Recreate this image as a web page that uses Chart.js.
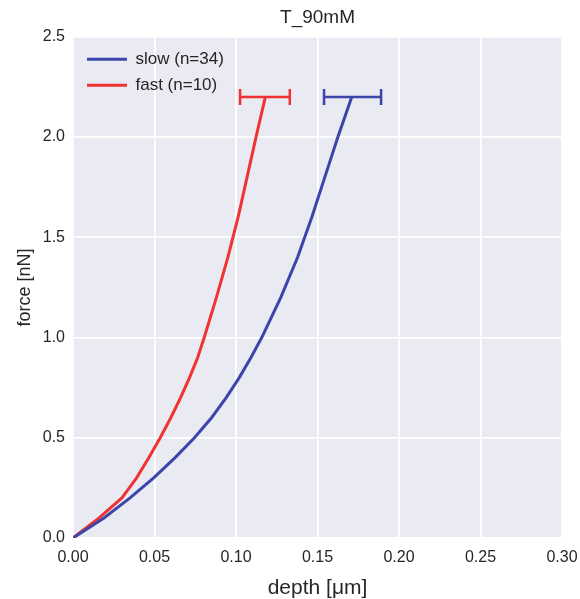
<!DOCTYPE html>
<html>
<head>
<meta charset="utf-8">
<script src="https://cdn.jsdelivr.net/npm/chart.js@4.4.1/dist/chart.umd.min.js"></script>
<style>
  html, body { margin: 0; padding: 0; background: #fff; }
  #wrap { width: 580px; height: 599px; }
</style>
</head>
<body>
<div id="wrap"><canvas id="forceChart"></canvas></div>
<script>
// force levels [nN] and the mean indentation depth [um] at each level
var forceLevels = [0, 0.1, 0.2, 0.3, 0.4, 0.5, 0.6, 0.7, 0.8, 0.9, 1.0, 1.2, 1.4, 1.6, 1.8, 2.0, 2.2];
var slowDepth = [0, 0.019, 0.035, 0.0495, 0.0625, 0.0745, 0.085, 0.094, 0.102, 0.1092, 0.1158, 0.1275, 0.1378, 0.1465, 0.1545, 0.1625, 0.171];
var fastDepth = [0, 0.016, 0.030, 0.039, 0.0465, 0.0535, 0.060, 0.066, 0.0715, 0.0765, 0.0805, 0.088, 0.095, 0.1013, 0.1068, 0.1123, 0.118];

// horizontal error bars at the top force
var barForce = 2.2;
var slowBar = [0.154, 0.189];
var fastBar = [0.1025, 0.133];

var seriesLabels = ['slow (n=34)', 'fast (n=10)'];
var xTicks = [0, 0.05, 0.10, 0.15, 0.20, 0.25, 0.30];
var yTicks = [0, 0.5, 1.0, 1.5, 2.0, 2.5];

var slowColor = '#3b45aa';
var fastColor = '#f03232';
var textColor = '#262626';
var fontFamily = '"Liberation Sans", Arial, sans-serif';

function toPoints(xs, ys) {
    return xs.map(function (x, i) { return {x: x, y: ys[i]}; });
}

const plotBg = {
    id: 'plotBg',
    beforeDraw(chart) {
        const a = chart.chartArea;
        const ctx = chart.ctx;
        ctx.save();
        ctx.fillStyle = '#eaeaf2';
        ctx.fillRect(a.left, a.top, a.right - a.left, a.bottom - a.top);
        ctx.restore();
    }
};

// legend sits inside the plot corner, title centred over the plot
const placeBoxes = {
    id: 'placeBoxes',
    afterLayout(chart) {
        const a = chart.chartArea;
        if (chart.legend) {
            chart.legend.left = a.left + 5;
            chart.legend.top = a.top + 5;
            chart.legend.bottom = a.bottom;
        }
        if (chart.titleBlock) {
            chart.titleBlock.left = a.left;
            chart.titleBlock.right = a.right;
        }
    }
};

Chart.defaults.font.family = fontFamily;
Chart.defaults.color = textColor;

const ctx = document.getElementById('forceChart');

new Chart(ctx, {
    type: 'line',
    data: {
        datasets: [{
            label: seriesLabels[0],
            data: toPoints(slowDepth, forceLevels),
            borderColor: slowColor,
            backgroundColor: slowColor,
            borderWidth: 3,
            pointRadius: 0,
            pointStyle: 'line'
        }, {
            label: seriesLabels[1],
            data: toPoints(fastDepth, forceLevels),
            borderColor: fastColor,
            backgroundColor: fastColor,
            borderWidth: 3,
            pointRadius: 0,
            pointStyle: 'line'
        }, {
            label: 'slow err',
            data: toPoints(slowBar, [barForce, barForce]),
            borderColor: slowColor,
            borderWidth: 2.5,
            pointStyle: 'line',
            pointRotation: 90,
            pointRadius: 8,
            pointBorderWidth: 2.5,
            pointBorderColor: slowColor
        }, {
            label: 'fast err',
            data: toPoints(fastBar, [barForce, barForce]),
            borderColor: fastColor,
            borderWidth: 2.5,
            pointStyle: 'line',
            pointRotation: 90,
            pointRadius: 8,
            pointBorderWidth: 2.5,
            pointBorderColor: fastColor
        }]
    },
    options: {
        responsive: true,
        maintainAspectRatio: false,
        animation: false,
        layout: { padding: { left: 0, right: 18, top: 0, bottom: 0 } },
        plugins: {
            title: {
                display: true,
                text: 'T_90mM',
                color: textColor,
                font: { size: 19, weight: 'normal' },
                padding: { top: 6, bottom: 8 }
            },
            legend: {
                position: 'chartArea',
                align: 'start',
                labels: {
                    usePointStyle: true,
                    pointStyleWidth: 40,
                    padding: 9,
                    color: textColor,
                    font: { size: 17 },
                    filter: function (item) { return item.datasetIndex < 2; }
                }
            },
            tooltip: { enabled: false }
        },
        scales: {
            x: {
                type: 'linear',
                min: 0,
                max: 0.3,
                afterBuildTicks: function (s) { s.ticks = xTicks.map(function (v) { return {value: v}; }); },
                afterFit: function (s) { s.height = 61; s.paddingLeft = 0; s.paddingRight = 0; },
                ticks: {
                    callback: function (v) { return v.toFixed(2); },
                    font: { size: 16 },
                    color: textColor,
                    padding: 10,
                    maxRotation: 0
                },
                grid: { color: '#ffffff', lineWidth: 1.8, drawTicks: false },
                border: { display: false },
                title: {
                    display: true,
                    text: 'depth [μm]',
                    color: textColor,
                    font: { size: 21 },
                    padding: { top: 0, bottom: -2 }
                }
            },
            y: {
                min: 0,
                max: 2.5,
                afterBuildTicks: function (s) { s.ticks = yTicks.map(function (v) { return {value: v}; }); },
                afterFit: function (s) { s.width = 73; },
                ticks: {
                    callback: function (v) { return v.toFixed(1); },
                    font: { size: 16 },
                    color: textColor,
                    padding: 8
                },
                grid: { color: '#ffffff', lineWidth: 1.8, drawTicks: false },
                border: { display: false },
                title: {
                    display: true,
                    text: 'force [nN]',
                    color: textColor,
                    font: { size: 18 },
                    padding: { top: 14, bottom: 0 }
                }
            }
        }
    },
    plugins: [plotBg, placeBoxes]
});
</script>
</body>
</html>
